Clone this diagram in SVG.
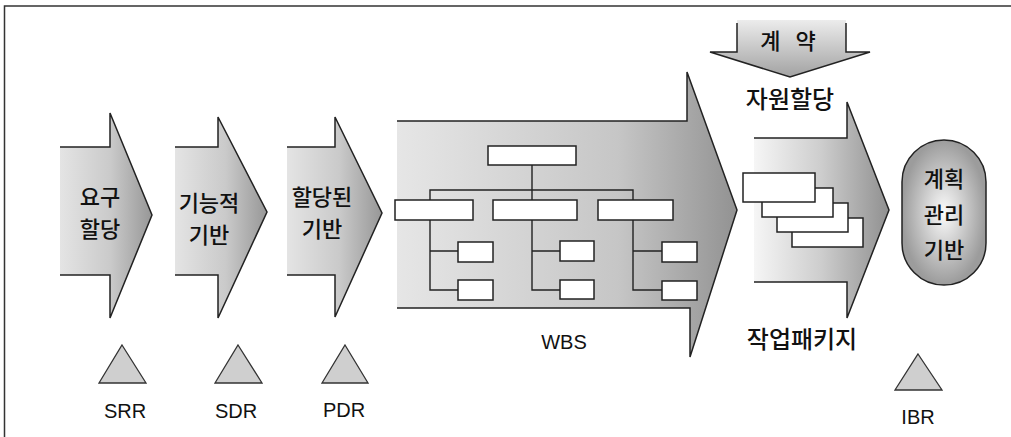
<svg xmlns="http://www.w3.org/2000/svg" width="1011" height="437" viewBox="0 0 1011 437">
  <defs>
    <linearGradient id="gArrow" x1="0" y1="0" x2="1" y2="0">
      <stop offset="0" stop-color="#e4e4e4"/>
      <stop offset="0.55" stop-color="#cacaca"/>
      <stop offset="1" stop-color="#979797"/>
    </linearGradient>
    <linearGradient id="gWbs" x1="0" y1="0" x2="1" y2="0">
      <stop offset="0" stop-color="#e6e6e6"/>
      <stop offset="0.65" stop-color="#c6c6c6"/>
      <stop offset="1" stop-color="#929292"/>
    </linearGradient>
    <linearGradient id="gWork" x1="0" y1="0" x2="1" y2="0">
      <stop offset="0" stop-color="#f6f6f6"/>
      <stop offset="0.5" stop-color="#cdcdcd"/>
      <stop offset="1" stop-color="#909090"/>
    </linearGradient>
    <linearGradient id="gDown" x1="0" y1="0" x2="0" y2="1">
      <stop offset="0" stop-color="#ececec"/>
      <stop offset="1" stop-color="#a2a2a2"/>
    </linearGradient>
    <radialGradient id="gPill" cx="0.5" cy="0.5" r="0.5">
      <stop offset="0" stop-color="#fbfbfb"/>
      <stop offset="1" stop-color="#9c9c9c"/>
    </radialGradient>
    <style>
      .edge { fill: none; stroke: #222; stroke-width: 1.5; stroke-linejoin: miter; }
      .box { fill: #fff; stroke: #222; stroke-width: 1.5; }
      .tri { fill: #cfcfcf; stroke: #333; stroke-width: 1.3; }
      .wire { fill: none; stroke: #222; stroke-width: 1.4; }
      .ko { font-family: "Noto Sans CJK KR", "Noto Sans", sans-serif; font-weight: 500; font-size: 22px; fill: #111; text-anchor: middle; }
      .big { font-size: 24px; }
      .lbl { font-family: "Liberation Sans", Arial, sans-serif; font-size: 20px; fill: #111; text-anchor: middle; }
    </style>
  </defs>

  <rect width="1011" height="437" fill="#fff"/>
  <!-- frame: top and left rules -->
  <path d="M4.5,437 V6 H1011" fill="none" stroke="#333" stroke-width="1.5"/>

  <!-- stage 1: requirements -->
  <g id="stage-req">
    <path d="M60,147 H110 V113 L152,215 L110,318 V275 H60 Z" fill="url(#gArrow)"/>
    <path class="edge" d="M60,147 H110 V113 L152,215 L110,318 V275 H60"/>
    <text class="ko" x="100" y="205">요구</text>
    <text class="ko" x="100" y="237">할당</text>
  </g>

  <!-- stage 2: functional baseline -->
  <g id="stage-func">
    <path d="M175,147 H218 V117 L267,212 L218,318 V275 H175 Z" fill="url(#gArrow)"/>
    <path class="edge" d="M175,147 H218 V117 L267,212 L218,318 V275 H175"/>
    <text class="ko" x="209" y="211">기능적</text>
    <text class="ko" x="209" y="243">기반</text>
  </g>

  <!-- stage 3: allocated baseline -->
  <g id="stage-alloc">
    <path d="M287,147 H335 V117 L382,213 L335,317 V275 H287 Z" fill="url(#gArrow)"/>
    <path class="edge" d="M287,147 H335 V117 L382,213 L335,317 V275 H287"/>
    <text class="ko" x="322" y="205">할당된</text>
    <text class="ko" x="322" y="237">기반</text>
  </g>

  <!-- WBS arrow with tree -->
  <g id="wbs">
    <path d="M397,121 H687 V72 L737,210 L690,357 V308 H397 Z" fill="url(#gWbs)"/>
    <path class="edge" d="M397,121 H687 V72 L737,210 L690,357 V308 H397"/>
  </g>

  <!-- tree connectors -->
  <g id="connectors">
    <path class="wire" d="M532,165 V190 M430,200 V190 H633 V200 M532,190 V200"/>
    <path class="wire" d="M430,220 V290 H458 M430,251 H458"/>
    <path class="wire" d="M532,220 V290 H560 M532,251 H560"/>
    <path class="wire" d="M633,220 V290 H662 M633,251 H662"/>
  </g>

  <g id="wbs-root"><rect class="box" x="488" y="146" width="88" height="19"/></g>
  <g id="wbs-a"><rect class="box" x="395" y="200" width="78" height="20"/></g>
  <g id="wbs-b"><rect class="box" x="493" y="200" width="84" height="20"/></g>
  <g id="wbs-c"><rect class="box" x="598" y="200" width="75" height="20"/></g>
  <g id="wbs-a1"><rect class="box" x="458" y="242" width="35" height="20"/></g>
  <g id="wbs-a2"><rect class="box" x="458" y="280" width="35" height="20"/></g>
  <g id="wbs-b1"><rect class="box" x="560" y="241" width="34" height="20"/></g>
  <g id="wbs-b2"><rect class="box" x="560" y="280" width="34" height="19"/></g>
  <g id="wbs-c1"><rect class="box" x="662" y="242" width="35" height="20"/></g>
  <g id="wbs-c2"><rect class="box" x="662" y="281" width="35" height="19"/></g>

  <g id="wbs-label"><text class="lbl" x="564" y="349">WBS</text></g>

  <!-- contract input -->
  <g id="contract">
    <path d="M737,20 V52 H710 L790,77 L870,52 H846 V20 Z" fill="url(#gDown)"/>
    <path class="edge" d="M737,23 V52 H710 L790,77 L870,52 H846 V23"/>
    <text class="ko" x="788" y="49" xml:space="preserve">계   약</text>
  </g>

  <g id="resource-label"><text class="ko big" x="790" y="108">자원할당</text></g>

  <!-- work package arrow -->
  <g id="work-package">
    <path d="M754,138 H847 V102 L889,210 L847,318 V282 H754 Z" fill="url(#gWork)"/>
    <path class="edge" d="M754,138 H847 V102 L889,210 L847,318 V282 H754"/>
    <rect class="box" x="792" y="218" width="71" height="29"/>
    <rect class="box" x="777" y="203" width="71" height="29"/>
    <rect class="box" x="762" y="188" width="71" height="29"/>
    <rect class="box" x="743" y="173" width="72" height="29"/>
  </g>

  <g id="work-label"><text class="ko big" x="802" y="348">작업패키지</text></g>

  <!-- integrated baseline -->
  <g id="baseline">
    <rect x="902" y="140" width="84" height="145" rx="42" ry="42" fill="url(#gPill)" stroke="#222" stroke-width="1.5"/>
    <text class="ko" x="944" y="187">계획</text>
    <text class="ko" x="944" y="223">관리</text>
    <text class="ko" x="944" y="258">기반</text>
  </g>

  <!-- review milestones -->
  <g id="srr">
    <polygon class="tri" points="122,345 146,383 99,383"/>
    <text class="lbl" x="125" y="418">SRR</text>
  </g>
  <g id="sdr">
    <polygon class="tri" points="238,345 262,383 215,383"/>
    <text class="lbl" x="236" y="418">SDR</text>
  </g>
  <g id="pdr">
    <polygon class="tri" points="345,345 368,383 322,383"/>
    <text class="lbl" x="344" y="417">PDR</text>
  </g>
  <g id="ibr">
    <polygon class="tri" points="918,354 942,390 895,390"/>
    <text class="lbl" x="918" y="424">IBR</text>
  </g>
</svg>
